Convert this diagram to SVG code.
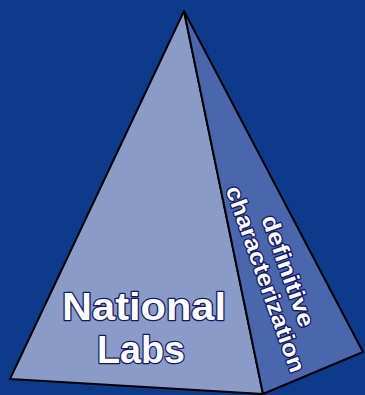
<svg xmlns="http://www.w3.org/2000/svg" width="365" height="395" viewBox="0 0 365 395">
<style>
.face{stroke:#000;stroke-width:2;stroke-linejoin:round}
.lbl{font-family:"Liberation Sans",Arial,sans-serif;font-weight:700;fill:#fff;stroke:#14166e;stroke-width:2.5;paint-order:stroke;stroke-linejoin:round;text-anchor:middle}
</style>
<rect width="365" height="395" fill="#0e3a8c"/>
<g id="left-face">
<polygon class="face" points="184,11 10,379 263,394" fill="#8a9bc8"/>
<text class="lbl" x="144" y="320" font-size="38" textLength="164" lengthAdjust="spacingAndGlyphs">National</text>
<text class="lbl" x="141" y="363" font-size="38" textLength="88" lengthAdjust="spacingAndGlyphs">Labs</text>
</g>
<g id="right-face">
<polygon class="face" points="184,11 263,394 363,352" fill="#4a66ac"/>
<g transform="translate(277,275) rotate(70.5)">
<text class="lbl" x="0" y="-4" font-size="23" textLength="117" lengthAdjust="spacingAndGlyphs">definitive</text>
<text class="lbl" x="0" y="20" font-size="23" textLength="196" lengthAdjust="spacingAndGlyphs">characterization</text>
</g>
</g>
</svg>
